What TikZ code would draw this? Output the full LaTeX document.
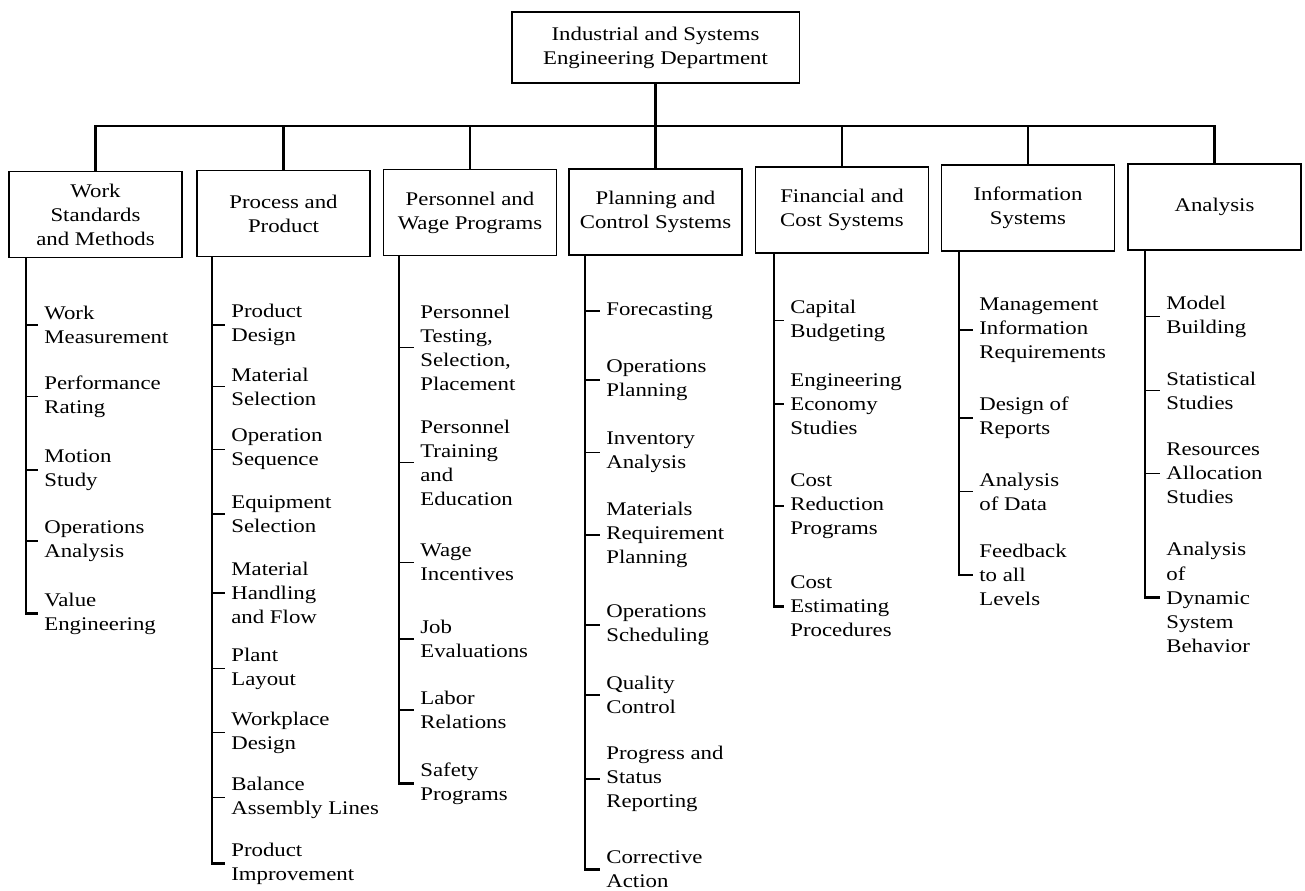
\documentclass[tikz,border=0pt]{standalone}
\usepackage{fontspec}
\setmainfont{Liberation Serif}[FakeStretch=1.18]
\usepackage{tikz}
\tikzstyle{dept} = [rectangle, draw, line width=1.1pt, minimum width=5.76cm, minimum height=1.42cm, align=center, inner sep=0pt]
\tikzstyle{group} = [rectangle, draw, line width=1.1pt, minimum width=3.46cm, minimum height=1.72cm, align=center, inner sep=0pt]
\tikzstyle{task} = [anchor=west, align=left, inner xsep=0.12cm, inner ysep=0pt]
\tikzstyle{trunk} = [line width=1.3pt]
\tikzstyle{tick} = [line width=0.8pt]

\begin{document}
\begin{tikzpicture}[x=0.02cm, y=-0.02cm, font=\fontsize{11}{13.7}\selectfont]
\useasboundingbox (0,0) rectangle (1305,891);

\node (dept) [dept] at (655.5,47.5) {Industrial and Systems\\Engineering Department};
\coordinate (bus) at (655.5,126);

\node (ws) [group] at (95.5,214.5) {Work\\Standards\\and Methods};
\node (pp) [group] at (283.5,213.5) {Process and\\Product};
\node (pw) [group] at (470,212.5) {Personnel and\\Wage Programs};
\node (pc) [group] at (655.5,212) {Planning and\\Control Systems};
\node (fc) [group] at (842,210) {Financial and\\Cost Systems};
\node (is) [group] at (1028,208) {Information\\Systems};
\node (an) [group] at (1214.5,207) {Analysis};

\coordinate (t1) at (26,0);
\coordinate (t2) at (212,0);
\coordinate (t3) at (399,0);
\coordinate (t4) at (585,0);
\coordinate (t5) at (774,0);
\coordinate (t6) at (959,0);
\coordinate (t7) at (1145,0);

\node (ws1) [task] at (38,325) {Work\\Measurement};
\node (ws2) [task] at (38,396.5) {Performance\\Rating};
\node (ws3) [task] at (38,470) {Motion\\Study};
\node (ws4) [task] at (38,541) {Operations\\Analysis};
\node (ws5) [task] at (38,613.5) {Value\\Engineering};

\node (pp1) [task] at (225,325) {Product\\Design};
\node (pp2) [task] at (225,386.5) {Material\\Selection};
\node (pp3) [task] at (225,449.5) {Operation\\Sequence};
\node (pp4) [task] at (225,514) {Equipment\\Selection};
\node (pp5) [task] at (225,593) {Material\\Handling\\and Flow};
\node (pp6) [task] at (225,668.5) {Plant\\Layout};
\node (pp7) [task] at (225,732.5) {Workplace\\Design};
\node (pp8) [task] at (225,797.5) {Balance\\Assembly Lines};
\node (pp9) [task] at (225,863.5) {Product\\Improvement};

\node (pw1) [task] at (414,347.5) {Personnel\\Testing,\\Selection,\\Placement};
\node (pw2) [task] at (414,462.5) {Personnel\\Training\\and\\Education};
\node (pw3) [task] at (414,562.5) {Wage\\Incentives};
\node (pw4) [task] at (414,639) {Job\\Evaluations};
\node (pw5) [task] at (414,710) {Labor\\Relations};
\node (pw6) [task] at (414,783.5) {Safety\\Programs};

\node (pc1) [task] at (600,311) {Forecasting};
\node (pc2) [task] at (600,380) {Operations\\Planning};
\node (pc3) [task] at (600,452.5) {Inventory\\Analysis};
\node (pc4) [task] at (600,535) {Materials\\Requirement\\Planning};
\node (pc5) [task] at (600,625) {Operations\\Scheduling};
\node (pc6) [task] at (600,695) {Quality\\Control};
\node (pc7) [task] at (600,779) {Progress and\\Status\\Reporting};
\node (pc8) [task] at (600,869.5) {Corrective\\Action};

\node (fc1) [task] at (784,320.5) {Capital\\Budgeting};
\node (fc2) [task] at (784,404) {Engineering\\Economy\\Studies};
\node (fc3) [task] at (784,506) {Cost\\Reduction\\Programs};
\node (fc4) [task] at (784,606.5) {Cost\\Estimating\\Procedures};

\node (is1) [task] at (973,330) {Management\\Information\\Requirements};
\node (is2) [task] at (973,418) {Design of\\Reports};
\node (is3) [task] at (973,491.5) {Analysis\\of Data};
\node (is4) [task] at (973,575) {Feedback\\to all\\Levels};

\node (an1) [task] at (1160,316.5) {Model\\Building};
\node (an2) [task] at (1160,390.5) {Statistical\\Studies};
\node (an3) [task] at (1160,473.5) {Resources\\Allocation\\Studies};
\node (an4) [task] at (1160,597.5) {Analysis\\of\\Dynamic\\System\\Behavior};

\draw [trunk] (dept.south) -- (bus);
\draw [trunk] (bus) -| (ws.north);
\draw [trunk] (bus) -| (pp.north);
\draw [trunk] (bus) -| (pw.north);
\draw [trunk] (bus) -- (pc.north);
\draw [trunk] (bus) -| (fc.north);
\draw [trunk] (bus) -| (is.north);
\draw [trunk] (bus) -| (an.north);

\draw [trunk] (t1 |- ws.south) |- (ws5.west);
\draw [tick] (t1 |- ws1.west) -- (ws1.west);
\draw [tick] (t1 |- ws2.west) -- (ws2.west);
\draw [tick] (t1 |- ws3.west) -- (ws3.west);
\draw [tick] (t1 |- ws4.west) -- (ws4.west);

\draw [trunk] (t2 |- pp.south) |- (pp9.west);
\draw [tick] (t2 |- pp1.west) -- (pp1.west);
\draw [tick] (t2 |- pp2.west) -- (pp2.west);
\draw [tick] (t2 |- pp3.west) -- (pp3.west);
\draw [tick] (t2 |- pp4.west) -- (pp4.west);
\draw [tick] (t2 |- pp5.west) -- (pp5.west);
\draw [tick] (t2 |- pp6.west) -- (pp6.west);
\draw [tick] (t2 |- pp7.west) -- (pp7.west);
\draw [tick] (t2 |- pp8.west) -- (pp8.west);

\draw [trunk] (t3 |- pw.south) |- (pw6.west);
\draw [tick] (t3 |- pw1.west) -- (pw1.west);
\draw [tick] (t3 |- pw2.west) -- (pw2.west);
\draw [tick] (t3 |- pw3.west) -- (pw3.west);
\draw [tick] (t3 |- pw4.west) -- (pw4.west);
\draw [tick] (t3 |- pw5.west) -- (pw5.west);

\draw [trunk] (t4 |- pc.south) |- (pc8.west);
\draw [tick] (t4 |- pc1.west) -- (pc1.west);
\draw [tick] (t4 |- pc2.west) -- (pc2.west);
\draw [tick] (t4 |- pc3.west) -- (pc3.west);
\draw [tick] (t4 |- pc4.west) -- (pc4.west);
\draw [tick] (t4 |- pc5.west) -- (pc5.west);
\draw [tick] (t4 |- pc6.west) -- (pc6.west);
\draw [tick] (t4 |- pc7.west) -- (pc7.west);

\draw [trunk] (t5 |- fc.south) |- (fc4.west);
\draw [tick] (t5 |- fc1.west) -- (fc1.west);
\draw [tick] (t5 |- fc2.west) -- (fc2.west);
\draw [tick] (t5 |- fc3.west) -- (fc3.west);

\draw [trunk] (t6 |- is.south) |- (is4.west);
\draw [tick] (t6 |- is1.west) -- (is1.west);
\draw [tick] (t6 |- is2.west) -- (is2.west);
\draw [tick] (t6 |- is3.west) -- (is3.west);

\draw [trunk] (t7 |- an.south) |- (an4.west);
\draw [tick] (t7 |- an1.west) -- (an1.west);
\draw [tick] (t7 |- an2.west) -- (an2.west);
\draw [tick] (t7 |- an3.west) -- (an3.west);
\end{tikzpicture}
\end{document}
